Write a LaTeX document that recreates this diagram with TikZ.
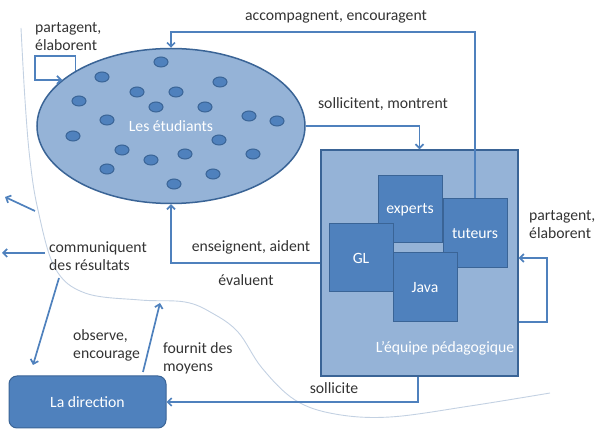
\documentclass[tikz,border=0pt]{standalone}
\usepackage{fontspec}
\setmainfont{Carlito}
\usetikzlibrary{shapes.geometric,arrows.meta}
\definecolor{lblue}{HTML}{95B3D7}
\definecolor{mblue}{HTML}{4F81BD}
\definecolor{dblue}{HTML}{3A6496}
\definecolor{curvec}{HTML}{C3D1E2}
\begin{document}
\begin{tikzpicture}[x=1pt,y=-1pt,
  every node/.style={font=\fontsize{15.7}{18}\selectfont},
  arr/.style={draw=mblue,line width=1.7pt,-{Straight Barb[length=4pt,width=8pt]}},
  lbl/.style={inner sep=0pt,text=black!80,align=left},
  dot/.style={ellipse,draw=dblue,fill=mblue,line width=1pt,minimum width=14pt,minimum height=10pt,inner sep=0pt},
  bx/.style={draw=dblue,fill=mblue,line width=1pt,text=white,inner sep=0pt},
]
\useasboundingbox (0,0) rectangle (595,430);
% background curve
\draw[curvec, line width=0.9pt] plot[smooth, tension=0.6] coordinates {(21,28) (25,100) (30,160) (38,210) (55,268) (85,293) (140,300) (185,302) (212,313) (238,332) (262,368) (295,400) (335,414) (390,417) (470,406) (550,393)};
% students
\node[ellipse, draw=dblue, fill=lblue, line width=1.5pt, minimum width=268pt, minimum height=155pt, inner sep=0pt, text=white] (stud) at (171,126) {Les étudiants};
\foreach \x/\y [count=\i] in {161/62,102/77,220/82,137/92,176/92,79/101,156/107,205/107,249/116,277/121,107/120,73/136,219/140,122/150,185/154,151/160,253/154,107/169,213/174,174/184}
  \node[dot] (d\i) at (\x,\y) {};
% team
\node[draw=dblue, fill=lblue, line width=1.2pt, minimum width=197pt, minimum height=226pt, inner sep=0pt] (team) at (419.5,263) {};
\node[bx, minimum width=64pt, minimum height=67pt] (exp) at (410,209.5) {experts};
\node[bx, minimum width=64pt, minimum height=69pt] (tut) at (475,233.5) {tuteurs};
\node[bx, minimum width=64pt, minimum height=68pt] (gl) at (361,258) {GL};
\node[bx, minimum width=64pt, minimum height=69pt] (java) at (425,287.5) {Java};
\node[text=white, inner sep=0pt] (teamlbl) at (445,348) {L’équipe pédagogique};
% direction
\node[bx, rounded corners=8pt, minimum width=157pt, minimum height=52pt] (dir) at (87.5,402) {La direction};
% arrows
\coordinate (topy) at (0,32);
\draw[arr] (tut.north) -- (tut.north |- topy) -| (stud.north);
\draw[arr] (stud.east) -| (team.north);
\draw[arr] (team.west) -| (stud.south);
\coordinate (loopr) at (547,322);
\coordinate (loopt) at (0,258);
\draw[arr] (team.east |- loopr) -- (loopr) |- (team.east |- loopt);
\coordinate (loopl) at (35,56);
\draw[arr] (stud.150) |- (loopl) |- (stud.157);
\coordinate (sollx) at (418,0);
\draw[arr] (team.south -| sollx) |- (dir.east);
\coordinate (obsA) at (59,278);
\coordinate (obsB) at (33,365);
\draw[arr] (obsA) -- (obsB);
\coordinate (fouA) at (143,372);
\coordinate (fouB) at (160,303);
\draw[arr] (fouA) -- (fouB);
\coordinate (comA) at (45,253);
\coordinate (comB) at (2,253);
\draw[arr] (comA) -- (comB);
\coordinate (comC) at (35,211);
\coordinate (comD) at (5,197);
\draw[arr] (comC) -- (comD);
% labels
\node[lbl, anchor=west] (l1) at (35,37) {partagent,\\élaborent};
\node[lbl, anchor=west] (l2) at (529,225) {partagent,\\élaborent};
\node[lbl] (l3) at (336,17) {accompagnent, encouragent};
\node[lbl] (l4) at (383,104) {sollicitent, montrent};
\node[lbl] (l5) at (251,247) {enseignent, aident};
\node[lbl] (l6) at (246,280) {évaluent};
\node[lbl, anchor=west] (l7) at (49,256) {communiquent\\des résultats};
\node[lbl, anchor=west] (l8) at (73,345) {observe,\\encourage};
\node[lbl, anchor=west] (l9) at (163,358) {fournit des\\moyens};
\node[lbl] (l10) at (334,388) {sollicite};
\end{tikzpicture}
\end{document}
